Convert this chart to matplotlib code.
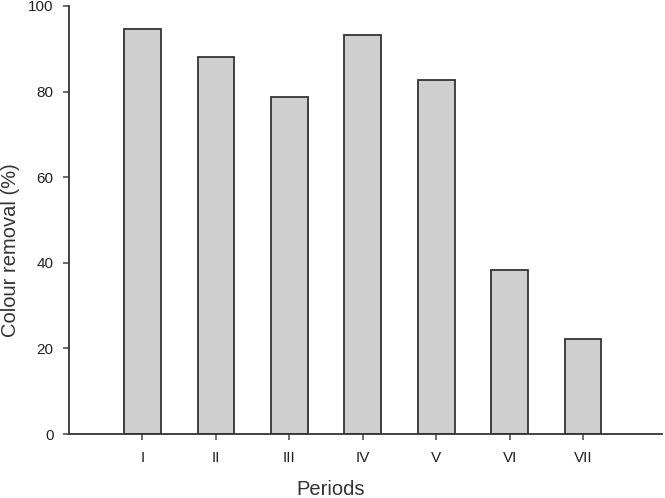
import matplotlib
matplotlib.use("Agg")
import matplotlib.pyplot as plt

periods = ["I", "II", "III", "IV", "V", "VI", "VII"]
colour_removal = [94.6, 88.0, 78.8, 93.2, 82.7, 38.3, 22.3]
yticks = [0, 20, 40, 60, 80, 100]

plt.rcParams['font.family'] = ['Liberation Sans', 'DejaVu Sans']
fig = plt.figure(figsize=(6.65, 4.98), dpi=100)
ax = fig.add_axes([0.1038, 0.1285, 0.8912, 0.8595])

x = list(range(1, len(periods) + 1))
ax.bar(x, colour_removal, width=0.5, color="#cfcfcf", edgecolor="#333333", linewidth=1.3, zorder=2)

ax.set_xlim(0, 8.07)
ax.set_ylim(0, 100)
ax.set_xticks(x)
ax.set_xticklabels(periods)
ax.set_yticks(yticks)
ax.spines['top'].set_visible(False)
ax.spines['right'].set_visible(False)
for s in ['left', 'bottom']:
    ax.spines[s].set_color("#333333")
    ax.spines[s].set_linewidth(1.3)
ax.tick_params(direction='out', length=4, width=1.1, color="#444444", labelsize=11, labelcolor="#222222")
ax.tick_params(axis='y', pad=7)
ax.tick_params(axis='x', pad=8)
ax.set_xlabel("Periods", fontsize=14.5, color="#333333")
ax.set_ylabel("Colour removal (%)", fontsize=14.5, color="#333333")
ax.xaxis.set_label_coords(0.442, -0.108)
ax.yaxis.set_label_coords(-0.083, 0.43)

fig.savefig("out.png", dpi=100)
